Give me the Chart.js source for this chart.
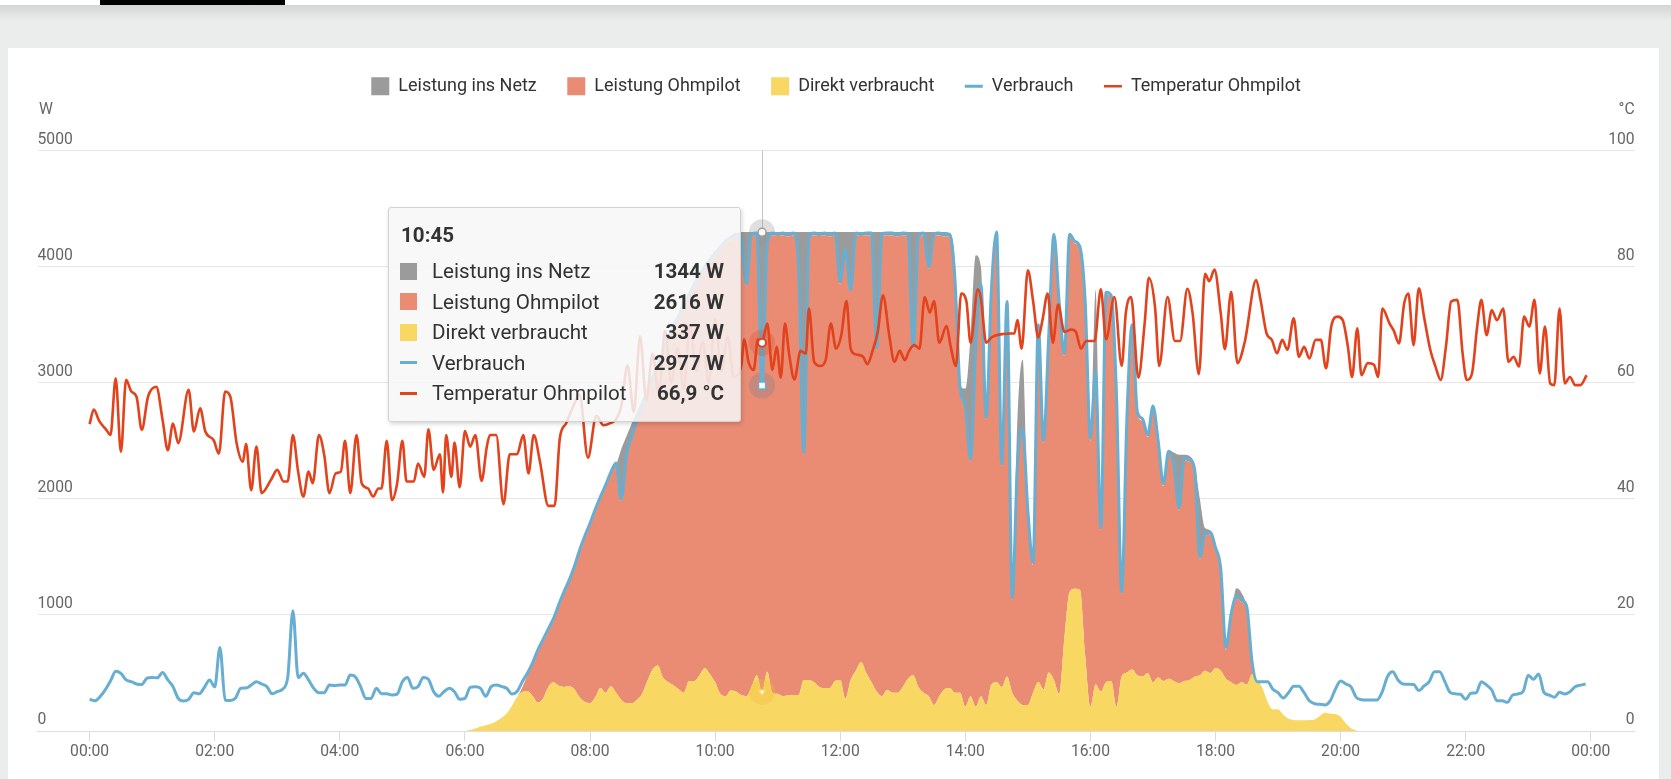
<!DOCTYPE html>
<html>
<head>
<meta charset="utf-8">
<script src="https://cdn.jsdelivr.net/npm/chart.js@4.4.1/dist/chart.umd.min.js"></script>
<style>
html,body{margin:0;padding:0;}
body{width:1671px;height:779px;background:#ebecec;position:relative;overflow:hidden;font-family:Roboto,'Noto Sans',sans-serif;}
#topbar{position:absolute;left:0;top:0;width:1671px;height:5px;background:#fff;}
#tab{position:absolute;left:100px;top:0;width:185px;height:5px;background:#000;}
#shade{position:absolute;left:0;top:5px;width:1671px;height:16px;background:linear-gradient(#d4d5d4,#ebecec);}
#panel{position:absolute;left:8px;top:48px;width:1651px;height:731px;background:#fff;}
#wrap{position:absolute;left:8px;top:46px;width:1649px;height:733px;}
#tt{position:absolute;width:353px;height:215px;box-sizing:border-box;background:rgba(247,247,247,0.86);border:1px solid #d2d2d2;border-radius:3px;box-shadow:1px 2px 4px rgba(0,0,0,0.16);color:#333;font-family:Roboto,sans-serif;}
#ttTitle{position:absolute;left:12px;top:15px;font-weight:bold;font-size:20.6px;line-height:24px;}
.row{position:absolute;left:0;right:0;height:24px;line-height:24px;font-size:20.6px;white-space:nowrap;}
.sw{position:absolute;left:10.7px;top:3.5px;width:17.6px;height:17px;}
.sw.line{top:10.5px;height:3px;}
.lab{position:absolute;left:43px;top:0;}
.val{position:absolute;right:16px;top:0;font-weight:bold;}
</style>
</head>
<body>
<div id="topbar"><div id="tab"></div></div>
<div id="shade"></div>
<div id="panel"></div>
<div id="wrap"><canvas id="c" width="1649" height="733"></canvas></div>
<div id="tt"><div id="ttTitle"></div></div>
<script>
// ---------------- DATA ----------------
const STEP = 5;                 // minutes between samples
const loadStart = '00:00';      // first sample of "Verbrauch"
const pvStart = '06:00';        // first sample of the stacked PV series
const hoverTime = '10:45';

const xTickLabels = ['00:00','02:00','04:00','06:00','08:00','10:00','12:00','14:00','16:00','18:00','20:00','22:00','00:00'];
const wTickLabels = ['0','1000','2000','3000','4000','5000'];
const cTickLabels = ['0','20','40','60','80','100'];
const unitLeft = 'W';
const unitRight = '°C';

// Verbrauch (W), 00:00 .. 23:55 every 5 min
const verbrauch = [
 273,260,296,355,430,515,497,440,425,405,400,455,
 462,458,505,440,382,281,258,273,330,320,375,440,
 380,720,267,262,285,368,370,396,425,405,382,320,
 339,360,460,1037,460,497,440,368,330,330,396,392,
 396,396,482,465,380,281,281,368,320,320,310,318,
 425,462,368,382,462,445,339,300,340,368,339,273,
 281,376,382,368,300,380,396,385,368,319,340,425,
 500,590,700,790,880,970,1090,1200,1300,1420,1560,1680,
 1790,1910,2020,2120,2230,2310,2000,2380,2540,2680,2800,2930,
 3050,3150,3270,3380,3480,3580,3680,3760,3850,3930,4000,4060,
 4120,4170,4220,4250,4280,4250,3850,4280,4290,2977,4200,4290,
 4285,4290,4280,4290,4030,2400,4250,4290,4285,4290,4280,4290,
 3870,4150,3800,4290,4285,4290,4290,3300,4285,4290,4290,4280,
 4290,4285,3310,4270,4290,4000,4285,4290,4280,4280,3900,2950,
 2800,2340,3300,3850,2700,3800,4300,2300,3700,1150,2300,2600,
 1900,1450,3500,2500,3400,4280,3700,3250,4280,4220,4170,3700,
 2520,3100,1750,3780,3750,2900,1200,2700,3500,2750,2690,2550,
 2800,2500,2130,2410,2300,1920,2350,2340,2250,1500,1700,1710,
 1580,1400,720,1010,1160,1130,1070,600,425,425,425,360,
 330,285,330,385,385,330,260,235,230,225,260,360,
 430,405,380,290,270,267,267,267,340,470,510,440,
 405,402,400,348,388,425,511,511,425,333,320,316,
 273,325,330,425,396,353,261,261,247,310,319,339,
 480,445,491,333,310,290,333,319,339,382,395,405
];

// Direkt verbraucht (W), 06:00 .. 20:30 every 5 min
const direkt = [
 0,8,22,38,50,62,85,112,150,215,290,335,
 345,300,245,280,380,420,390,380,385,360,290,250,
 240,290,370,330,385,330,270,240,240,270,320,430,
 530,565,460,420,395,360,330,430,430,480,540,490,
 420,320,300,350,340,310,300,380,480,337,510,330,
 320,300,305,310,310,440,440,420,380,370,370,430,
 440,280,440,520,595,500,420,340,300,355,330,330,
 380,450,480,380,330,300,225,300,360,370,330,330,
 210,300,210,300,224,400,420,380,470,330,260,224,
 225,330,422,360,505,440,320,800,1198,1225,1215,650,
 208,400,340,420,430,210,472,505,530,480,470,500,
 420,460,430,450,430,410,430,440,468,480,520,500,
 540,520,450,420,396,420,400,490,440,370,250,185,
 187,140,105,95,92,92,95,100,130,158,150,146,
 123,66,23,5,0,0,0
];

// Leistung Ohmpilot (W), 06:00 .. 20:30 every 5 min
const ohmpilot = [
 0,0,0,0,0,0,0,0,0,0,0,40,
 135,270,435,490,480,530,680,800,895,1040,1250,1410,
 1530,1600,1630,1770,1825,1960,1710,2120,2280,2390,2460,2480,
 2500,2565,2790,2940,3065,3200,3330,3310,3400,3430,3440,3550,
 3680,3830,3900,3880,3920,3920,3530,3880,3790,2616,3670,3940,
 3945,3970,3955,3960,3700,1940,3790,3850,3885,3900,3890,3840,
 3410,3850,3340,3750,3670,3770,3850,2940,3965,3915,3940,3930,
 3890,3815,2810,3870,3940,3680,4040,3970,3900,3890,3550,2600,
 2570,2020,3070,3530,2456,3380,3860,1900,3210,800,2020,2356,
 1655,1100,3058,2120,2875,3820,3360,2430,3062,2975,2935,3030,
 2292,2680,1390,3340,3300,2670,708,2175,2950,2250,2200,2030,
 2360,2020,1680,1940,1850,1490,1900,1880,1762,1000,1160,1190,
 1020,860,250,570,744,690,650,90,0,0,0,0,
 0,0,0,0,0,0,0,0,0,0,0,0,
 0,0,0,0,0,0,0
];

// Leistung ins Netz (W), 06:00 .. 20:30 every 5 min
const insNetz = [
 0,0,0,0,0,0,0,0,0,0,0,0,
 0,0,0,0,0,0,0,0,0,0,0,0,
 0,0,0,0,0,0,450,180,130,90,70,40,
 0,0,0,0,0,0,0,0,0,0,0,0,
 0,0,0,0,20,70,470,40,30,1344,120,30,
 35,30,40,30,290,1920,70,30,35,30,40,30,
 450,170,520,30,35,30,30,1020,35,30,30,40,
 30,35,1010,50,30,320,35,30,40,30,170,50,
 170,1080,820,170,0,0,0,0,0,0,420,620,
 0,0,0,0,0,0,0,0,0,0,0,0,
 0,720,0,0,0,0,0,0,0,0,0,0,
 0,0,0,30,120,480,50,50,60,520,70,40,
 0,0,0,0,90,80,0,0,0,0,0,0,
 0,0,0,0,0,0,0,0,0,0,0,0,
 0,0,0,0,0,0,0
];

// Temperatur Ohmpilot (°C)
const tempTimes = [
 '00:00','00:04','00:09','00:16','00:20','00:25','00:30','00:35','00:40','00:45','00:50','00:56',
 '01:04','01:10','01:15','01:20','01:25','01:35','01:40','01:46','01:51','01:59','02:04','02:10',
 '02:15','02:21','02:27','02:30','02:35','02:40','02:45','02:54','03:00','03:06','03:10','03:15',
 '03:20','03:25','03:30','03:34','03:40','03:45','03:50','03:56','04:01','04:05','04:10','04:16',
 '04:21','04:27','04:32','04:37','04:40','04:45','04:50','04:55','05:00','05:04','05:11','05:15',
 '05:21','05:25','05:30','05:36','05:39','05:42','05:47','05:50','05:55','06:00','06:05','06:10',
 '06:16','06:21','06:24','06:30','06:37','06:43','06:50','06:56','07:01','07:06','07:12','07:20',
 '07:26','07:31','07:37','07:44','07:50','07:58','08:06','08:13','08:19','08:25','08:30','08:36',
 '08:42','08:48','08:54','09:00','09:06','09:12','09:18','09:24','09:30','09:36','09:42','09:48',
 '09:54','10:00','10:06','10:12','10:18','10:25','10:28','10:32','10:37','10:41','10:45','10:50',
 '10:55','10:59','11:03','11:07','11:11','11:16','11:22','11:27','11:30','11:35','11:41','11:46',
 '11:51','11:56','12:01','12:06','12:10','12:15','12:22','12:26','12:31','12:36','12:41','12:47',
 '12:52','12:57','13:02','13:06','13:11','13:16','13:21','13:26','13:30','13:35','13:42','13:46',
 '13:51','13:56','14:01','14:05','14:12','14:15','14:20','14:25','14:30','14:36','14:43','14:47',
 '14:50','14:54','15:00','15:05','15:10','15:14','15:19','15:24','15:29','15:35','15:42','15:46',
 '15:51','15:56','16:04','16:10','16:15','16:23','16:30','16:34','16:39','16:46','16:52','16:56',
 '17:02','17:06','17:14','17:21','17:26','17:33','17:38','17:44','17:50','17:54','17:59','18:05',
 '18:09','18:15','18:21','18:28','18:39','18:43','18:49','18:54','18:59','19:04','19:09','19:15',
 '19:20','19:25','19:30','19:36','19:41','19:46','19:51','19:57','20:02','20:07','20:11','20:16',
 '20:20','20:26','20:32','20:36','20:40','20:47','20:51','20:56','21:01','21:05','21:10','21:15',
 '21:20','21:26','21:31','21:36','21:41','21:46','21:52','21:57','22:01','22:06','22:11','22:15',
 '22:20','22:25','22:30','22:36','22:41','22:46','22:51','22:56','23:01','23:06','23:11','23:16',
 '23:21','23:25','23:30','23:35','23:40','23:45','23:50','23:56'
];
const tempValues = [
 52.9,55.4,53.5,51.9,51.0,60.8,48.1,60.5,58.5,57.6,51.9,57.6,
 59.3,53.6,48.4,53.0,49.6,58.8,51.6,55.6,51.6,50.1,47.8,58.5,
 57.6,49.6,46.4,49.5,41.5,49.0,41.0,43.3,45.0,43.0,43.0,51.0,
 44.7,40.4,44.7,42.7,51.0,47.6,41.0,44.4,44.7,50.0,41.0,51.0,
 42.7,41.8,40.4,41.8,41.8,50.0,39.8,42.7,50.0,43.0,43.0,46.1,
 43.8,52.0,45.0,47.7,41.1,51.0,43.8,49.7,42.0,51.7,49.0,51.0,
 43.1,49.0,51.0,51.0,39.1,47.7,47.7,51.0,44.4,51.0,46.4,38.8,
 38.8,50.4,53.0,56.0,58.0,47.1,54.3,52.7,53.0,53.7,56.0,63.0,
 55.0,68.0,57.0,65.0,58.0,69.0,60.0,66.0,59.0,70.0,62.0,67.0,
 60.0,71.0,62.0,68.0,61.0,62.9,67.5,63.6,62.2,67.5,66.9,70.2,
 62.2,66.2,60.9,70.2,64.9,60.6,65.5,65.0,72.8,63.6,62.9,63.9,
 70.2,65.9,68.2,74.1,65.9,64.9,64.5,63.2,65.5,68.8,75.1,68.2,
 63.6,65.5,63.9,65.5,66.5,65.9,74.8,72.1,74.1,66.9,69.8,66.2,
 62.9,75.4,74.1,66.9,76.1,74.5,66.9,67.8,68.2,68.4,68.5,68.5,
 70.8,65.9,79.4,74.1,67.8,70.8,75.4,66.9,73.5,68.8,69.2,68.8,
 65.9,67.2,67.2,76.1,67.5,74.8,62.9,72.1,74.8,60.9,70.2,78.1,
 73.0,62.9,74.8,67.2,67.2,76.2,72.0,61.5,78.8,77.5,79.5,72.0,
 65.8,75.7,63.4,67.0,77.7,74.5,68.5,67.4,65.1,67.4,65.7,71.1,
 64.5,66.2,64.2,67.4,67.4,62.5,69.7,71.4,70.8,66.2,61.0,69.4,
 61.3,63.4,63.1,61.0,72.8,70.2,69.0,66.8,73.7,75.4,66.5,76.3,
 71.4,65.7,62.8,60.5,66.2,74.0,74.3,65.1,60.5,61.6,69.7,74.3,
 68.2,72.5,70.8,72.8,63.6,64.5,62.8,71.4,69.7,74.3,61.6,69.7,
 59.9,59.6,72.8,59.9,61.0,59.6,59.6,61.3
];

// ---------------- STYLE ----------------
const COL = {
  gray: '#9b9b9b', orange: '#ea8b74', yellow: '#f9d763', blue: '#67aed0', red: '#e2421c'
};
const legendStyles = ['rect','rect','rect','line','line'];
const FONT = 'Roboto';

function toMin(t){ const p = t.split(':'); return (+p[0])*60 + (+p[1]); }
function series(arr, start){ const s = toMin(start); return arr.map((v,i)=>({x: s + i*STEP, y: v})); }

Chart.defaults.font.family = FONT;
Chart.defaults.color = '#666';

const areaBase = {
  yAxisID: 'y', stack: 'pv', borderWidth: 0, borderColor: 'rgba(0,0,0,0)',
  pointRadius: 0, pointHoverRadius: 4, pointHoverBorderWidth: 1.5,
  pointHoverBackgroundColor: '#ffffff', cubicInterpolationMode: 'monotone'
};

const datasets = [
  Object.assign({}, areaBase, {
    label: 'Leistung ins Netz', data: series(insNetz, pvStart), order: 4, fill: 1,
    backgroundColor: COL.gray, pointStyle: 'circle', pointHoverBorderColor: COL.gray,
    haloColor: 'rgba(150,150,150,0.30)'
  }),
  Object.assign({}, areaBase, {
    label: 'Leistung Ohmpilot', data: series(ohmpilot, pvStart), order: 3, fill: 2,
    backgroundColor: COL.orange, pointStyle: 'rectRot', pointHoverRadius: 0, pointHoverBorderColor: COL.orange
  }),
  Object.assign({}, areaBase, {
    label: 'Direkt verbraucht', data: series(direkt, pvStart), order: 2, fill: 'origin',
    backgroundColor: COL.yellow, pointStyle: 'triangle', pointRotation: 180, pointHoverBorderColor: COL.yellow,
    haloColor: 'rgba(240,190,60,0.35)'
  }),
  {
    label: 'Verbrauch', data: series(verbrauch, loadStart), yAxisID: 'y', stack: 'load', order: 1, fill: false,
    borderColor: COL.blue, backgroundColor: COL.blue, borderWidth: 3, pointRadius: 0, pointHoverRadius: 5,
    pointStyle: 'rect', pointHoverBackgroundColor: '#ffffff', pointHoverBorderColor: COL.blue, pointHoverBorderWidth: 1.5,
    cubicInterpolationMode: 'monotone', haloColor: 'rgba(120,130,140,0.30)'
  },
  {
    label: 'Temperatur Ohmpilot', data: tempTimes.map((t,i)=>({x: toMin(t), y: tempValues[i]})), yAxisID: 'y2', order: 0, fill: false,
    borderColor: COL.red, backgroundColor: COL.red, borderWidth: 2.6, pointRadius: 0, pointHoverRadius: 4,
    pointStyle: 'circle', pointHoverBackgroundColor: '#ffffff', pointHoverBorderColor: COL.red, pointHoverBorderWidth: 2,
    cubicInterpolationMode: 'monotone', haloColor: 'rgba(226,66,28,0.25)'
  }
];

// ---------------- PLUGINS ----------------
const legendSpace = {
  id: 'legendSpace',
  afterInit(chart){
    const lg = chart.legend; const orig = lg.fit;
    lg.fit = function(){ orig.call(this); this.height = 103.9; };
  }
};
const crosshair = {
  id: 'crosshair',
  beforeDatasetsDraw(chart){
    const act = chart.getActiveElements(); if (!act.length) return;
    const x = Math.round(act[0].element.x) + 0.5; const a = chart.chartArea; const ctx = chart.ctx;
    ctx.save(); ctx.strokeStyle = '#c4c4c4'; ctx.lineWidth = 1;
    ctx.beginPath(); ctx.moveTo(x, a.top); ctx.lineTo(x, a.bottom); ctx.stroke(); ctx.restore();
  }
};
const halo = {
  id: 'halo',
  beforeDatasetDraw(chart, args){
    const ds = chart.data.datasets[args.index]; if (!ds.haloColor) return;
    const act = chart.getActiveElements().filter(a => a.datasetIndex === args.index);
    const ctx = chart.ctx; ctx.save(); ctx.fillStyle = ds.haloColor;
    act.forEach(a => { ctx.beginPath(); ctx.arc(a.element.x, a.element.y, 13, 0, Math.PI*2); ctx.fill(); });
    ctx.restore();
  }
};
const units = {
  id: 'units',
  afterDraw(chart){
    const a = chart.chartArea; const ctx = chart.ctx;
    ctx.save(); ctx.font = '15.7px ' + FONT; ctx.fillStyle = '#666'; ctx.textBaseline = 'middle';
    ctx.textAlign = 'left'; ctx.fillText(unitLeft, a.left + 1.5, a.top - 41);
    ctx.textAlign = 'right'; ctx.fillText(unitRight, a.right, a.top - 41);
    ctx.restore();
  }
};

// ---------------- CHART ----------------
const chart = new Chart(document.getElementById('c'), {
  type: 'line',
  data: { datasets },
  options: {
    responsive: false, animation: false, events: [],
    layout: { padding: { left: 29.5, right: 22.4, top: 0.8, bottom: 0 } },
    plugins: {
      tooltip: { enabled: false },
      legend: {
        position: 'top', align: 'center',
        labels: {
          usePointStyle: true, pointStyleWidth: 18, boxWidth: 18, boxHeight: 18, padding: 30.5,
          color: '#333', font: { size: 18, family: FONT },
          sort: (a,b) => a.datasetIndex - b.datasetIndex,
          generateLabels(ch){
            const items = Chart.defaults.plugins.legend.labels.generateLabels(ch);
            items.forEach(it => { it.pointStyle = legendStyles[it.datasetIndex]; it.rotation = 0; });
            return items;
          }
        }
      }
    },
    scales: {
      x: {
        type: 'linear', min: -50, max: 1482,
        ticks: { stepSize: 120, includeBounds: false, autoSkip: false, maxRotation: 0, padding: 2,
                 color: '#666', font: { size: 15.7 },
                 callback: (v) => xTickLabels[Math.round(v/120)] },
        grid: { drawOnChartArea: false, drawTicks: true, tickLength: 10, color: '#d6dce6' },
        border: { display: true, color: '#dedede' },
        afterFit(s){ s.height = 48; }
      },
      y: {
        position: 'left', stacked: true, min: 0, max: 5000,
        ticks: { stepSize: 1000, mirror: true, padding: 0, labelOffset: -11, color: '#666', font: { size: 15.7 },
                 callback: (v) => wTickLabels[Math.round(v/1000)] },
        grid: { color: '#e6e6e6', drawTicks: false },
        border: { display: false },
        afterFit(s){ s.width = 0; }
      },
      y2: {
        position: 'right', min: 0, max: 100,
        ticks: { stepSize: 20, mirror: true, padding: 0, labelOffset: -11, color: '#666', font: { size: 15.7 },
                 callback: (v) => cTickLabels[Math.round(v/20)] },
        grid: { display: false },
        border: { display: false },
        afterFit(s){ s.width = 0; }
      }
    }
  },
  plugins: [legendSpace, crosshair, halo, units]
});

// ---------------- HOVER STATE + TOOLTIP ----------------
const hm = toMin(hoverTime);
const active = chart.data.datasets.map((ds, di) => ({ datasetIndex: di, index: ds.data.findIndex(p => p.x === hm) }));
chart.setActiveElements(active);
chart.update('none');

(function buildTooltip(){
  const tt = document.getElementById('tt');
  document.getElementById('ttTitle').textContent = hoverTime;
  chart.data.datasets.forEach((ds, i) => {
    const v = ds.data[active[i].index].y;
    const row = document.createElement('div'); row.className = 'row'; row.style.top = (51.5 + i*30.5) + 'px';
    const sw = document.createElement('span'); const isLine = legendStyles[i] === 'line';
    sw.className = 'sw' + (isLine ? ' line' : ''); sw.style.background = isLine ? ds.borderColor : ds.backgroundColor;
    const lab = document.createElement('span'); lab.className = 'lab'; lab.textContent = ds.label;
    const val = document.createElement('span'); val.className = 'val';
    val.textContent = ds.yAxisID === 'y2' ? v.toFixed(1).replace('.', ',') + ' °C' : Math.round(v) + ' W';
    row.appendChild(sw); row.appendChild(lab); row.appendChild(val); tt.appendChild(row);
  });
  const el = chart.getDatasetMeta(0).data[active[0].index];
  const wrap = document.getElementById('wrap');
  tt.style.left = (wrap.offsetLeft + el.x - 353 - 21) + 'px';
  tt.style.top = (wrap.offsetTop + chart.chartArea.top + 56) + 'px';
})();
</script>
</body>
</html>
